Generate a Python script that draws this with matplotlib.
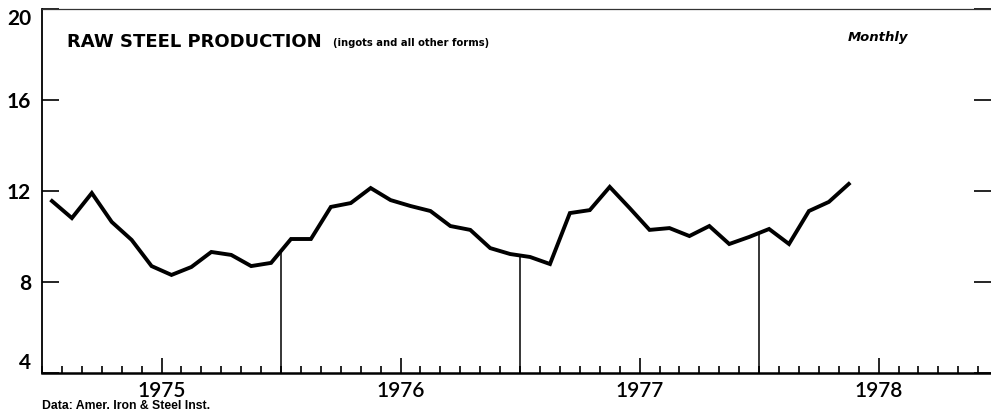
import numpy as np
import matplotlib
matplotlib.use("Agg")
import matplotlib.pyplot as plt

# monthly raw steel production, Jul 1974 .. Nov 1977 (millions of tons)
start_year = 1974
start_month = 7
production = [11.56, 10.81, 11.91, 10.64, 9.85, 8.70,
              8.31, 8.66, 9.32, 9.19, 8.70, 8.84, 9.89, 9.89, 11.30, 11.47, 12.13, 11.60,
              11.34, 11.12, 10.46, 10.29, 9.49, 9.23, 9.10, 8.79, 11.03, 11.16, 12.18, 11.25,
              10.29, 10.37, 10.02, 10.46, 9.67, 9.98, 10.33, 9.67, 11.12, 11.52, 12.31]
year_labels = ["1975", "1976", "1977", "1978"]
year_ticks = [1975, 1976, 1977, 1978]
y_ticks = [4, 8, 12, 16, 20]
marker_dates = [1975.5, 1976.5, 1977.5]

months = np.arange(len(production)) + (start_month - 1)
x = start_year + (months + 0.5) / 12.0

plt.rcParams['font.family'] = ['Lato', 'DejaVu Sans']

fig = plt.figure(figsize=(9.91, 4.2), dpi=100)
ax = fig.add_axes([42 / 991, 47 / 420, 949 / 991, 364 / 420])

ax.plot(x, production, color='black', linewidth=2.8, solid_joinstyle='miter')
for d in marker_dates:
    top = np.interp(d, x, production)
    ax.plot([d, d], [4, top], color='black', linewidth=1.1)

ax.set_xlim(1974.5, 1978.47)
ax.set_ylim(4, 20)

ax.set_yticks(y_ticks)
ax.set_yticklabels([str(v) for v in y_ticks], fontweight='bold')
ax.tick_params(axis='y', direction='in', length=12, width=1.2, pad=8,
               labelsize=15, right=True)
ylabels = ax.get_yticklabels()
ylabels[0].set_va('bottom')
ylabels[-1].set_va('top')

ax.set_xticks(year_ticks)
ax.set_xticklabels(year_labels, fontweight='semibold')
ax.set_xticks(np.arange(1974.5, 1978.5, 1 / 12.0), minor=True)
ax.tick_params(axis='x', which='major', direction='in', length=11, width=1.2,
               pad=6, labelsize=15)
ax.tick_params(axis='x', which='minor', direction='in', length=5, width=1.2)

ax.spines['right'].set_visible(False)
ax.spines['bottom'].set_linewidth(1.8)
ax.spines['left'].set_linewidth(1.3)
ax.spines['top'].set_linewidth(0.9)
ax.spines['top'].set_color('#333333')

fig.text(67 / 991, 1 - 42 / 420, "RAW STEEL PRODUCTION", fontsize=13,
         fontweight='bold', va='center', ha='left', family='DejaVu Sans')
fig.text(333 / 991, 1 - 43 / 420, "(ingots and all other forms)", fontsize=7.2,
         fontweight='bold', va='center', ha='left', family='DejaVu Sans')
fig.text(848 / 991, 1 - 37 / 420, "Monthly", fontsize=9.5, fontweight='bold',
         fontstyle='italic', va='center', ha='left', family='DejaVu Sans')
fig.text(42 / 991, 1 - 406 / 420, "Data: Amer. Iron & Steel Inst.",
         fontsize=8.8, fontweight='bold', va='center', ha='left',
         family=['Liberation Sans Narrow', 'Liberation Sans', 'DejaVu Sans'])

fig.savefig("out.png", dpi=100)
